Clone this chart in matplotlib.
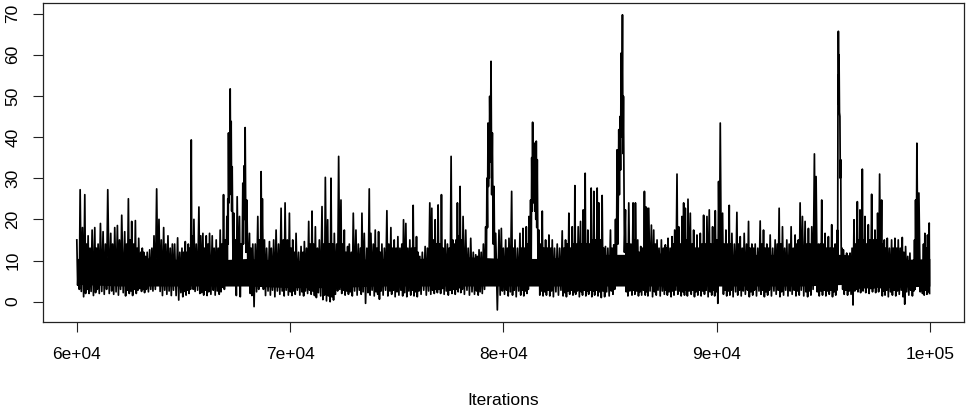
import matplotlib
matplotlib.use("Agg")
import matplotlib.pyplot as plt

plt.rcParams['font.family'] = ['Liberation Sans', 'DejaVu Sans']

# spikes of the trace (iteration)
peak_iter = [
    60000, 60080, 60156, 60265, 60374, 60450, 60530, 60620, 60718, 60842,
    60920, 60998, 61108, 61232, 61340, 61451, 61591, 61680, 61778, 61903,
    62000, 62106, 62246, 62330, 62418, 62500, 62574, 62660, 62746, 62830,
    62902, 63000, 63070, 63136, 63220, 63300, 63416, 63520, 63619, 63744,
    63853, 63960, 64072, 64170, 64274, 64380, 64480, 64586, 64727, 64830,
    64930, 65010, 65086, 65160, 65226, 65300, 65366, 65430, 65491, 65600,
    65725, 65812, 65912, 65990, 66068, 66150, 66224, 66349, 66440, 66536,
    66630, 66723, 66800, 66879, 66960, 67035, 67080, 67113, 67150, 67191,
    67238, 67285, 67363, 67440, 67519, 67628, 67700, 67784, 67840, 67893,
    67971, 68096, 68170, 68252, 68370, 68486, 68570, 68642, 68700, 68798,
    68900, 69032, 69120, 69230, 69344, 69460, 69578, 69680, 69765, 69870,
    69968, 70050, 70124, 70200, 70280, 70400, 70514, 70600, 70670, 70770,
    70873, 70950, 71029, 71100, 71185, 71280, 71372, 71497, 71580, 71653,
    71762, 71840, 71918, 72000, 72074, 72180, 72277, 72386, 72460, 72542,
    72620, 72698, 72776, 72870, 72963, 73088, 73200, 73300, 73369, 73478,
    73600, 73712, 73790, 73900, 73993, 74070, 74149, 74230, 74305, 74420,
    74539, 74630, 74726, 74800, 74882, 74970, 75054, 75150, 75240, 75319,
    75428, 75520, 75615, 75700, 75771, 75850, 75927, 76000, 76083, 76200,
    76333, 76440, 76551, 76645, 76720, 76801, 76870, 76941, 77020, 77097,
    77180, 77269, 77378, 77460, 77550, 77630, 77706, 77780, 77846, 77910,
    77971, 78040, 78111, 78236, 78350, 78470, 78590, 78704, 78780, 78860,
    78960, 79063, 79172, 79230, 79281, 79320, 79359, 79422, 79484, 79562,
    79640, 79796, 79905, 80000, 80108, 80190, 80264, 80389, 80470, 80545,
    80660, 80779, 80850, 80919, 81000, 81075, 81140, 81200, 81278, 81330,
    81372, 81410, 81450, 81500, 81543, 81590, 81668, 81750, 81824, 81900,
    81980, 82060, 82136, 82220, 82292, 82400, 82526, 82640, 82760, 82840,
    82916, 83000, 83072, 83150, 83228, 83300, 83353, 83430, 83509, 83618,
    83680, 83743, 83836, 83900, 83961, 84040, 84117, 84180, 84242, 84320,
    84398, 84476, 84550, 84632, 84710, 84788, 84900, 85022, 85100, 85178,
    85260, 85334, 85412, 85470, 85521, 85584, 85630, 85724, 85800, 85880,
    85980, 86083, 86140, 86192, 86301, 86370, 86442, 86530, 86614, 86691,
    86738, 86816, 86941, 87050, 87130, 87206, 87300, 87409, 87500, 87596,
    87660, 87721, 87820, 87908, 87970, 88033, 88142, 88220, 88300, 88376,
    88454, 88532, 88600, 88657, 88766, 88850, 88922, 89000, 89078, 89160,
    89234, 89310, 89390, 89470, 89546, 89655, 89730, 89811, 89880, 89936,
    90020, 90092, 90170, 90279, 90360, 90435, 90510, 90591, 90650, 90716,
    90830, 90950, 91030, 91106, 91200, 91293, 91400, 91496, 91570, 91652,
    91730, 91808, 91930, 92042, 92120, 92198, 92280, 92354, 92430, 92510,
    92630, 92744, 92840, 92931, 93010, 93087, 93190, 93290, 93400, 93493,
    93590, 93680, 93760, 93830, 93914, 94023, 94148, 94230, 94304, 94380,
    94460, 94585, 94663, 94772, 94850, 94928, 95000, 95084, 95160, 95240,
    95320, 95396, 95470, 95552, 95620, 95661, 95690, 95708, 95739, 95780,
    95817, 95880, 95942, 96020, 96098, 96180, 96254, 96350, 96441, 96520,
    96597, 96660, 96722, 96780, 96831, 96900, 96956, 97030, 97112, 97190,
    97268, 97350, 97424, 97490, 97549, 97642, 97736, 97800, 97861, 97930,
    98001, 98100, 98204, 98280, 98360, 98440, 98516, 98610, 98704, 98780,
    98860, 98960, 99063, 99140, 99219, 99280, 99328, 99390, 99484, 99608,
    99700, 99764, 99830, 99889, 99967,
]
peak_val = [
    15, 10, 27.2, 18, 26, 14, 16, 13, 17.4, 18,
    13, 14, 19, 17, 14, 27.2, 16.6, 14, 18, 18.5,
    15, 21, 17, 14, 25, 15, 19.5, 14, 19.7, 13,
    15.4, 12, 13, 12, 11, 12, 12.6, 13, 16, 27.4,
    20, 15, 18, 14, 16, 13, 14, 14, 15.5, 12,
    13, 12, 14.6, 12, 14, 13, 39.3, 16, 20, 14,
    23, 16, 16.6, 13, 16, 14, 16.6, 16, 13, 15,
    13, 17.4, 14, 26, 15, 20.7, 25, 41, 35, 51.7,
    43.8, 32.8, 21.5, 15, 25.5, 20.7, 14, 28.8, 33, 42.3,
    24.7, 16.6, 13, 14, 14, 20.7, 15, 31.6, 25, 15,
    13, 14.6, 13, 15, 17.4, 14, 22.7, 15, 24, 15,
    21.5, 13, 15, 12, 16.6, 12, 13.4, 12, 14.6, 13,
    19.5, 14, 22, 14, 18.2, 13, 15, 23.1, 14, 30.2,
    19.9, 14, 30, 14, 16.6, 14, 35.3, 24.7, 14, 17.4,
    12, 13.4, 14, 12, 21.5, 17.4, 14, 13, 21.5, 16.6,
    13, 27.4, 16.6, 14, 17.4, 13, 17, 12, 14, 13,
    22.1, 14, 18, 13, 15, 13, 15.8, 13, 14, 19.9,
    19, 13, 15, 13, 23.4, 13, 15.8, 12, 11, 12,
    13.4, 13, 24, 22.7, 15, 19.9, 14, 23.5, 14, 26,
    13, 15, 14, 13, 35.3, 15, 14, 15, 24, 16,
    28, 15, 20.7, 17.4, 13, 15.4, 12, 11.4, 11, 12.6,
    12, 14, 18.2, 30, 43.4, 38, 49.9, 58.4, 41, 28,
    16.6, 17.4, 17.8, 13, 15, 13, 15.4, 26.8, 13, 15,
    13, 16.6, 13, 17.8, 13, 18.2, 14, 20.7, 24.7, 35,
    43.6, 36, 38.5, 33, 39, 34.5, 17.4, 14, 22, 13,
    15, 13, 16.2, 13, 15, 13, 14, 13, 17.2, 13,
    15, 14, 21.5, 13, 18.2, 14, 28.2, 14, 18.2, 19.5,
    14, 22.3, 31.2, 14, 17.4, 14, 27.6, 15, 26.8, 15,
    27.6, 24, 15, 25.8, 13, 13.4, 13, 17.4, 13, 13.8,
    20, 36.9, 41.8, 45, 60.4, 69.7, 49.9, 22.3, 14, 24,
    14, 24, 15, 24, 15, 12, 13.4, 13, 26.8, 23,
    22.7, 22.7, 18.6, 17.4, 14, 15, 13, 15, 13, 13.8,
    13, 15.4, 13, 15.8, 14, 17.4, 31, 18.2, 14, 20.7,
    24, 22.7, 15, 24.9, 21.5, 14, 17.4, 13, 16.2, 13,
    16.6, 14, 21, 14, 20.7, 22.3, 14, 18.2, 14, 22.1,
    15, 29.2, 43.4, 21.5, 14, 17.4, 14, 23.4, 14, 16.6,
    14, 21.7, 14, 15.8, 13, 16.6, 14, 19.5, 13, 14,
    13, 14, 13, 19.6, 14, 17.4, 13, 14, 13, 16.2,
    13, 15, 14, 22.7, 14, 18.2, 13, 15, 14, 18.2,
    13, 16.2, 14, 15, 24, 20.7, 19.5, 14, 17.8, 14,
    18.2, 35.9, 30.4, 14, 14, 24.7, 14, 16.6, 13, 15.8,
    13, 18.7, 13, 14, 14, 17.4, 55, 65.7, 60, 45,
    34.5, 13, 12.6, 11, 11.8, 11, 11.8, 13, 19.9, 14,
    24.3, 15, 22.3, 16, 32.2, 15, 20.7, 14, 18.7, 15,
    26.1, 15, 17.4, 15, 21.5, 31, 24.7, 14, 15, 13,
    15.4, 13, 15, 13, 15.4, 13, 15, 13, 15.6, 12,
    13.4, 11, 11.8, 10, 10.1, 15, 24.7, 38.5, 26.4, 6.9,
    14, 16.6, 13, 16.2, 19.1,
]
# low point of the trace after each spike
trough_val = [
    4, 3, 2.5, 1.2, 2, 3, 2, 2.5, 1.5, 2.2,
    3, 2, 2.5, 1.8, 3, 2, 2.6, 1.8, 2.4, 1.6,
    3, 2.2, 1.4, 2.8, 2, 2.6, 1.5, 3, 2, 2.8,
    3.2, 2.5, 3, 2.2, 3, 2.4, 3, 2.6, 3, 4,
    2.5, 1.5, 2.8, 1.8, 2.6, 1.5, 2.8, 1.5, 0.4, 2.2,
    1.2, 2.5, 1.6, 2.8, 2, 3, 4, 3, 2.5, 2.8,
    2, 2.2, 1.6, 2.8, 1.5, 2.4, 1.8, 2.8, 1.6, 2.6,
    1.8, 2.4, 3.5, 3, 4.5, 8, 14, 24, 26, 30,
    22, 9, 4, 1.5, 4, 1.2, 5, 14, 20, 12,
    4, 2, 1.5, -1.2, 2.4, 3, 4, 8, 3, 1.5,
    2.6, 1.6, 2.8, 1.2, 2.6, 1.8, 2.6, 1.4, 2.8, 1.6,
    2.4, 1.5, 2.6, 1.8, 2.8, 1.6, 2.4, 1.4, 2.6, 2,
    2.8, 1.8, 2.6, 1.5, 1, 2.2, 1.4, 0.5, 1.6, 0.2,
    1.4, 0, 1.2, 0.4, 1.8, 2.6, 3, 2, 2.8, 1.6,
    2.6, 1.8, 2.4, 1.4, 2.6, 1.6, 2.8, 1.8, 2.4, -0.4,
    2.2, 1.6, 2.8, 1.4, 2.4, 1.8, 0.6, 2.6, 1.6, 2.8,
    1.4, 2.6, 1.8, 2.8, 1.2, 2.4, 1.6, 2.8, 1.4, 2.2,
    1.2, 2.6, 1.6, 2.8, 1.4, 2.4, 1.2, 2.6, 1.8, 2.8,
    1.6, 2.6, 1.8, 2.8, 2, 3, 2.2, 3, 2, 3.2,
    1.8, 2.6, 1.6, 2.8, 2, 3, 1.8, 3, 2.4, 3.4,
    2.2, 3, 1.8, 2.8, 1.6, 2.4, 1.8, 2.6, 1.6, 2.4,
    2, 3, 6, 18, 28, 30, 34, 26, 14, 4,
    -2, 1.6, 2.6, 1.8, 2.8, 1.4, 2.4, 1.6, 2.8, 1.2,
    2.6, 1.6, 2.8, 1.4, 2.6, 2, 3, 4, 8, 22,
    26, 24, 22, 20, 18, 5, 1.6, 2.6, 1.4, 2.4,
    1.6, 2.8, 1.4, 2.6, 1.2, 2.4, 1.6, 2.8, 1.4, 2.2,
    1.2, 2.6, 1.8, 2.8, 1.6, 2.4, 1.8, 2.6, 1.2, 2.4,
    1.6, 2.8, 1.4, 2.6, 1.8, 2.8, 1.2, 2.6, 1.6, 2.8,
    1.4, 2.4, 1, 2.6, 1.2, 2.4, 1.4, 2.6, 1.8, 3,
    5, 14, 26, 32, 40, 36, 12, 2.4, 1.4, 2.6,
    1.6, 2.8, 1.8, 2.6, 1.4, 2.4, 1.6, 2.8, 1.6, 2.4,
    1.4, 2.6, 1.2, 2.4, 1.6, 2.8, 1.4, 2.6, 1.8, 2.8,
    1.6, 2.4, 1.2, 2.6, 1.6, 2.8, 1.8, 2.6, 1.4, 2.4,
    1.6, 2.8, 1.4, 2.6, 1.8, 2.8, 1.2, 2.4, 1.6, 2.8,
    1.4, 2.6, 1.8, 2.8, 1.2, 2.4, 1.6, 2.8, 1.4, 2.4,
    -0.4, 8, 4, 1.8, 2.8, 1.4, 2.6, 1.6, 2.8, 1.2,
    2.4, 1.6, 2.8, 1.4, 2.6, 1.8, 2.8, 1.2, 2.4, 1.6,
    2.8, 1.4, 2.6, 1.8, 2.8, 1.2, 2.4, 1.6, 2.8, 1.4,
    2.6, 1.8, 2.8, 1.2, 2.4, 1.6, 2.8, 1.4, 2.6, 1.8,
    2.8, 1.4, 2.6, 1.6, 2.8, 1.4, 2.4, 1.2, 2.6, 1.6,
    3, 6, 2.4, 1.4, 2.6, 1.6, 2.8, 1.4, 2.6, 1.8,
    2.8, 1.2, 2.4, 1.6, 2.8, 8, 48, 50, 46, 30,
    6, 3, 1.8, 2.8, 1.6, 2.6, 1.8, -0.8, 2.6, 3,
    2.4, 3.4, 2.2, 3.6, 2.6, 3.4, 2.2, 3.4, 2, 3.2,
    2.4, 3.4, 2.2, 3.6, 2.4, 3.4, 1.4, 2.6, 1.6, 2.8,
    1.2, 2.4, 1.6, 2.8, 1.4, 2.6, 1.8, 2.8, 1.2, -0.6,
    2.4, 1.6, 2.8, 1.4, 2.6, 3, 6, 8, 2.4, 2,
    1.6, 2.8, 1.8, 2.4, 2,
]
last_iter = 100000

# dense core of the trace
core_iter = list(range(60000, 100001, 2000))
core_lo = [4.2, 3.8, 3.8, 3.8, 3.8, 3.4, 3.4, 3.8, 3.8, 3.8, 3.8, 3.8, 3.8, 3.8,
           3.8, 3.8, 3.8, 3.8, 4.2, 3.4, 3.8]
core_hi = [10.5, 11, 10.5, 10, 10.5, 10, 10, 10.5, 10.5, 11, 10.5, 10.5, 11.5,
           11.5, 12, 11.5, 11.5, 11.5, 11.5, 10, 10.5]

n = min(len(peak_iter), len(peak_val), len(trough_val))
xs, ys = [], []
for i in range(n):
    nxt = peak_iter[i + 1] if i + 1 < n else last_iter
    xs += [peak_iter[i], (peak_iter[i] + nxt) / 2]
    ys += [peak_val[i], trough_val[i]]

fig = plt.figure(figsize=(9.68, 4.08), dpi=100)
ax = fig.add_axes([0.0441, 0.2115, 0.9518, 0.7811])

ax.fill_between(core_iter, core_lo, core_hi, color='black', lw=0)
ax.plot(xs, ys, color='black', lw=1.25)

ax.margins(x=0.04, y=0.04)
ax.set_xticks([60000, 70000, 80000, 90000, 100000])
ax.set_xticklabels(['6e+04', '7e+04', '8e+04', '9e+04', '1e+05'])
ax.set_yticks(range(0, 71, 10))
ax.tick_params(axis='both', length=7.2, width=0.8, labelsize=12.5, color='#222222')
ax.tick_params(axis='x', pad=11)
ax.tick_params(axis='y', pad=9, labelrotation=90)
for lab in ax.get_yticklabels():
    lab.set_va('center')
for s in ax.spines.values():
    s.set_linewidth(0.9)
    s.set_color('#222222')

ax.set_xlabel('Iterations', fontsize=12.5, labelpad=22)

fig.savefig('out.png', dpi=100)
